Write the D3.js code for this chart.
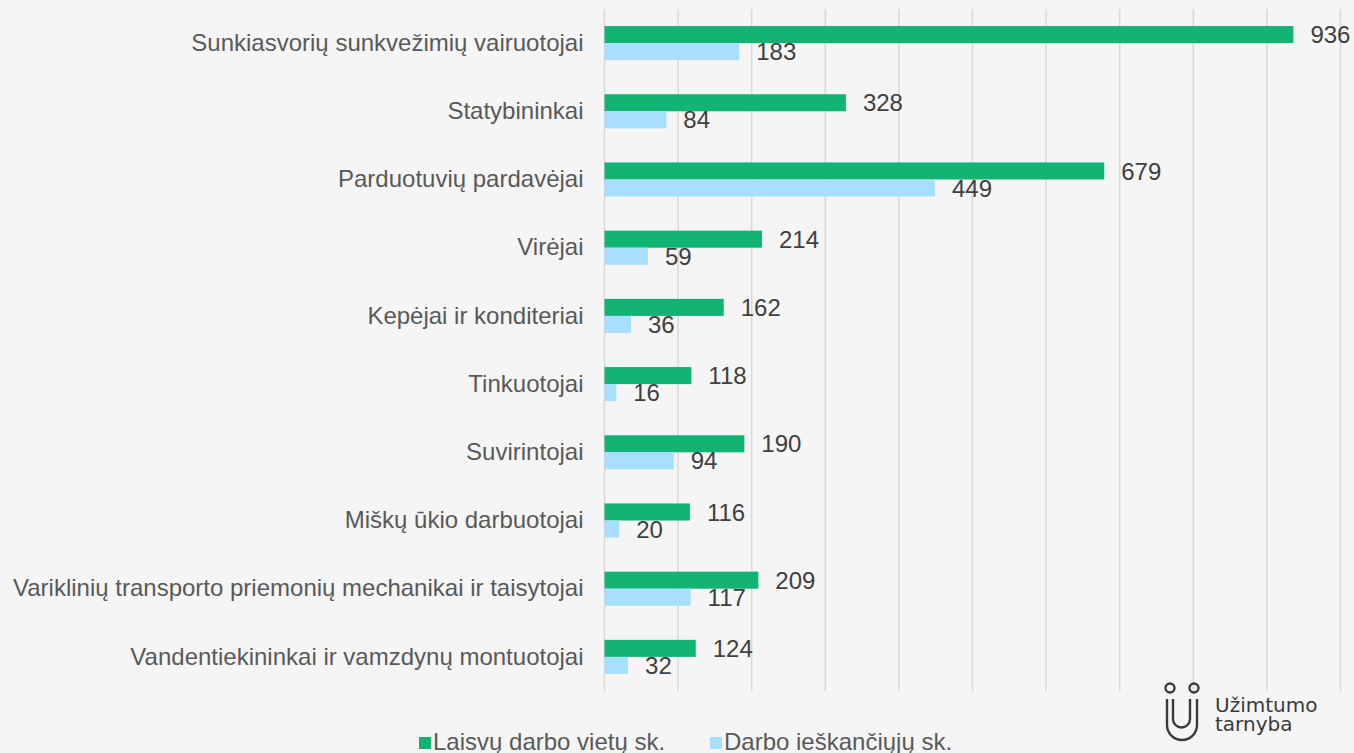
<!DOCTYPE html>
<html>
<head>
<meta charset="utf-8">
<script src="https://cdn.jsdelivr.net/npm/d3@7"></script>
<style>
    body { margin: 0; background: #f5f5f5; }
    svg { display: block; }
</style>
</head>
<body>
<svg id="chart"></svg>
<script>
var categories = [
    "Sunkiasvorių sunkvežimių vairuotojai",
    "Statybininkai",
    "Parduotuvių pardavėjai",
    "Virėjai",
    "Kepėjai ir konditeriai",
    "Tinkuotojai",
    "Suvirintojai",
    "Miškų ūkio darbuotojai",
    "Variklinių transporto priemonių mechanikai ir taisytojai",
    "Vandentiekininkai ir vamzdynų montuotojai"
];
var vacancies = [936, 328, 679, 214, 162, 118, 190, 116, 209, 124];
var seekers = [183, 84, 449, 59, 36, 16, 94, 20, 117, 32];
var seriesNames = ["Laisvų darbo vietų sk.", "Darbo ieškančiųjų sk."];
var xTicks = [0, 100, 200, 300, 400, 500, 600, 700, 800, 900, 1000];

var w = 1354;
var h = 753;
var plotLeft = 604.5;
var plotRight = 1340.5;
var plotTop = 9;
var plotBottom = 691;
var colors = ["#12b373", "#a8defe"];
var font = "'Liberation Sans', Arial, sans-serif";

var svg = d3.select("#chart")
    .attr("width", w)
    .attr("height", h);

svg.append("rect")
    .attr("width", w)
    .attr("height", h)
    .attr("fill", "#f5f5f5");

var x = d3.scaleLinear().domain([0, 1000]).range([plotLeft, plotRight]);
var y = d3.scaleBand().domain(categories).range([plotTop, plotBottom]).paddingInner(0.5).paddingOuter(0.25);
var sub = d3.scaleBand().domain([0, 1]).range([0, y.bandwidth()]);

// gridlines
svg.append("g")
    .selectAll("line")
    .data(xTicks)
    .enter()
    .append("line")
    .attr("x1", function (d) { return x(d); })
    .attr("x2", function (d) { return x(d); })
    .attr("y1", plotTop)
    .attr("y2", plotBottom)
    .attr("stroke", "#d9d9d9")
    .attr("stroke-width", 1.5);

// category axis
var yAxis = svg.append("g")
    .attr("transform", "translate(" + plotLeft + ",0)")
    .call(d3.axisLeft(y).tickSize(0).tickPadding(21));
yAxis.select(".domain").remove();
yAxis.selectAll("text")
    .attr("font-family", font)
    .attr("font-size", "24px")
    .attr("fill", "#595959");

var series = [vacancies, seekers];
series.forEach(function (vals, s) {
    var g = svg.append("g");
    g.selectAll("rect")
        .data(vals)
        .enter()
        .append("rect")
        .attr("x", x(0))
        .attr("y", function (d, i) { return y(categories[i]) + sub(s); })
        .attr("width", function (d) { return x(d) - x(0); })
        .attr("height", sub.bandwidth())
        .attr("fill", colors[s]);

    g.selectAll("text")
        .data(vals)
        .enter()
        .append("text")
        .text(function (d) { return d; })
        .attr("x", function (d) { return x(d) + 17; })
        .attr("y", function (d, i) { return y(categories[i]) + sub(s) + sub.bandwidth() / 2; })
        .attr("dy", "0.36em")
        .attr("font-family", font)
        .attr("font-size", "24px")
        .attr("fill", "#404040");
});

// legend
var legendX = [419, 710];
seriesNames.forEach(function (name, s) {
    svg.append("rect")
        .attr("x", legendX[s])
        .attr("y", 737)
        .attr("width", 12)
        .attr("height", 12)
        .attr("fill", colors[s]);
    svg.append("text")
        .text(name)
        .attr("x", legendX[s] + 14)
        .attr("y", 750)
        .attr("font-family", font)
        .attr("font-size", "24px")
        .attr("fill", "#595959");
});

// logo
var logo = svg.append("g")
    .attr("fill", "none")
    .attr("stroke", "#3a3a3a")
    .attr("stroke-width", 2.4);
logo.append("circle").attr("cx", 1170).attr("cy", 688).attr("r", 4.5);
logo.append("circle").attr("cx", 1194).attr("cy", 688).attr("r", 4.5);
logo.append("path").attr("d", "M1173,699 V719 A8.5,8.5 0 0 0 1190,719 V699");
logo.append("path").attr("d", "M1167,699 V725 A15,15 0 0 0 1197,725 V699");
svg.append("text")
    .text("Užimtumo")
    .attr("x", 1215)
    .attr("y", 712)
    .attr("font-family", "'DejaVu Sans', sans-serif")
    .attr("font-size", "20px")
    .attr("fill", "#3a3a3a");
svg.append("text")
    .text("tarnyba")
    .attr("x", 1215)
    .attr("y", 731)
    .attr("font-family", "'DejaVu Sans', sans-serif")
    .attr("font-size", "20px")
    .attr("fill", "#3a3a3a");
</script>
</body>
</html>
